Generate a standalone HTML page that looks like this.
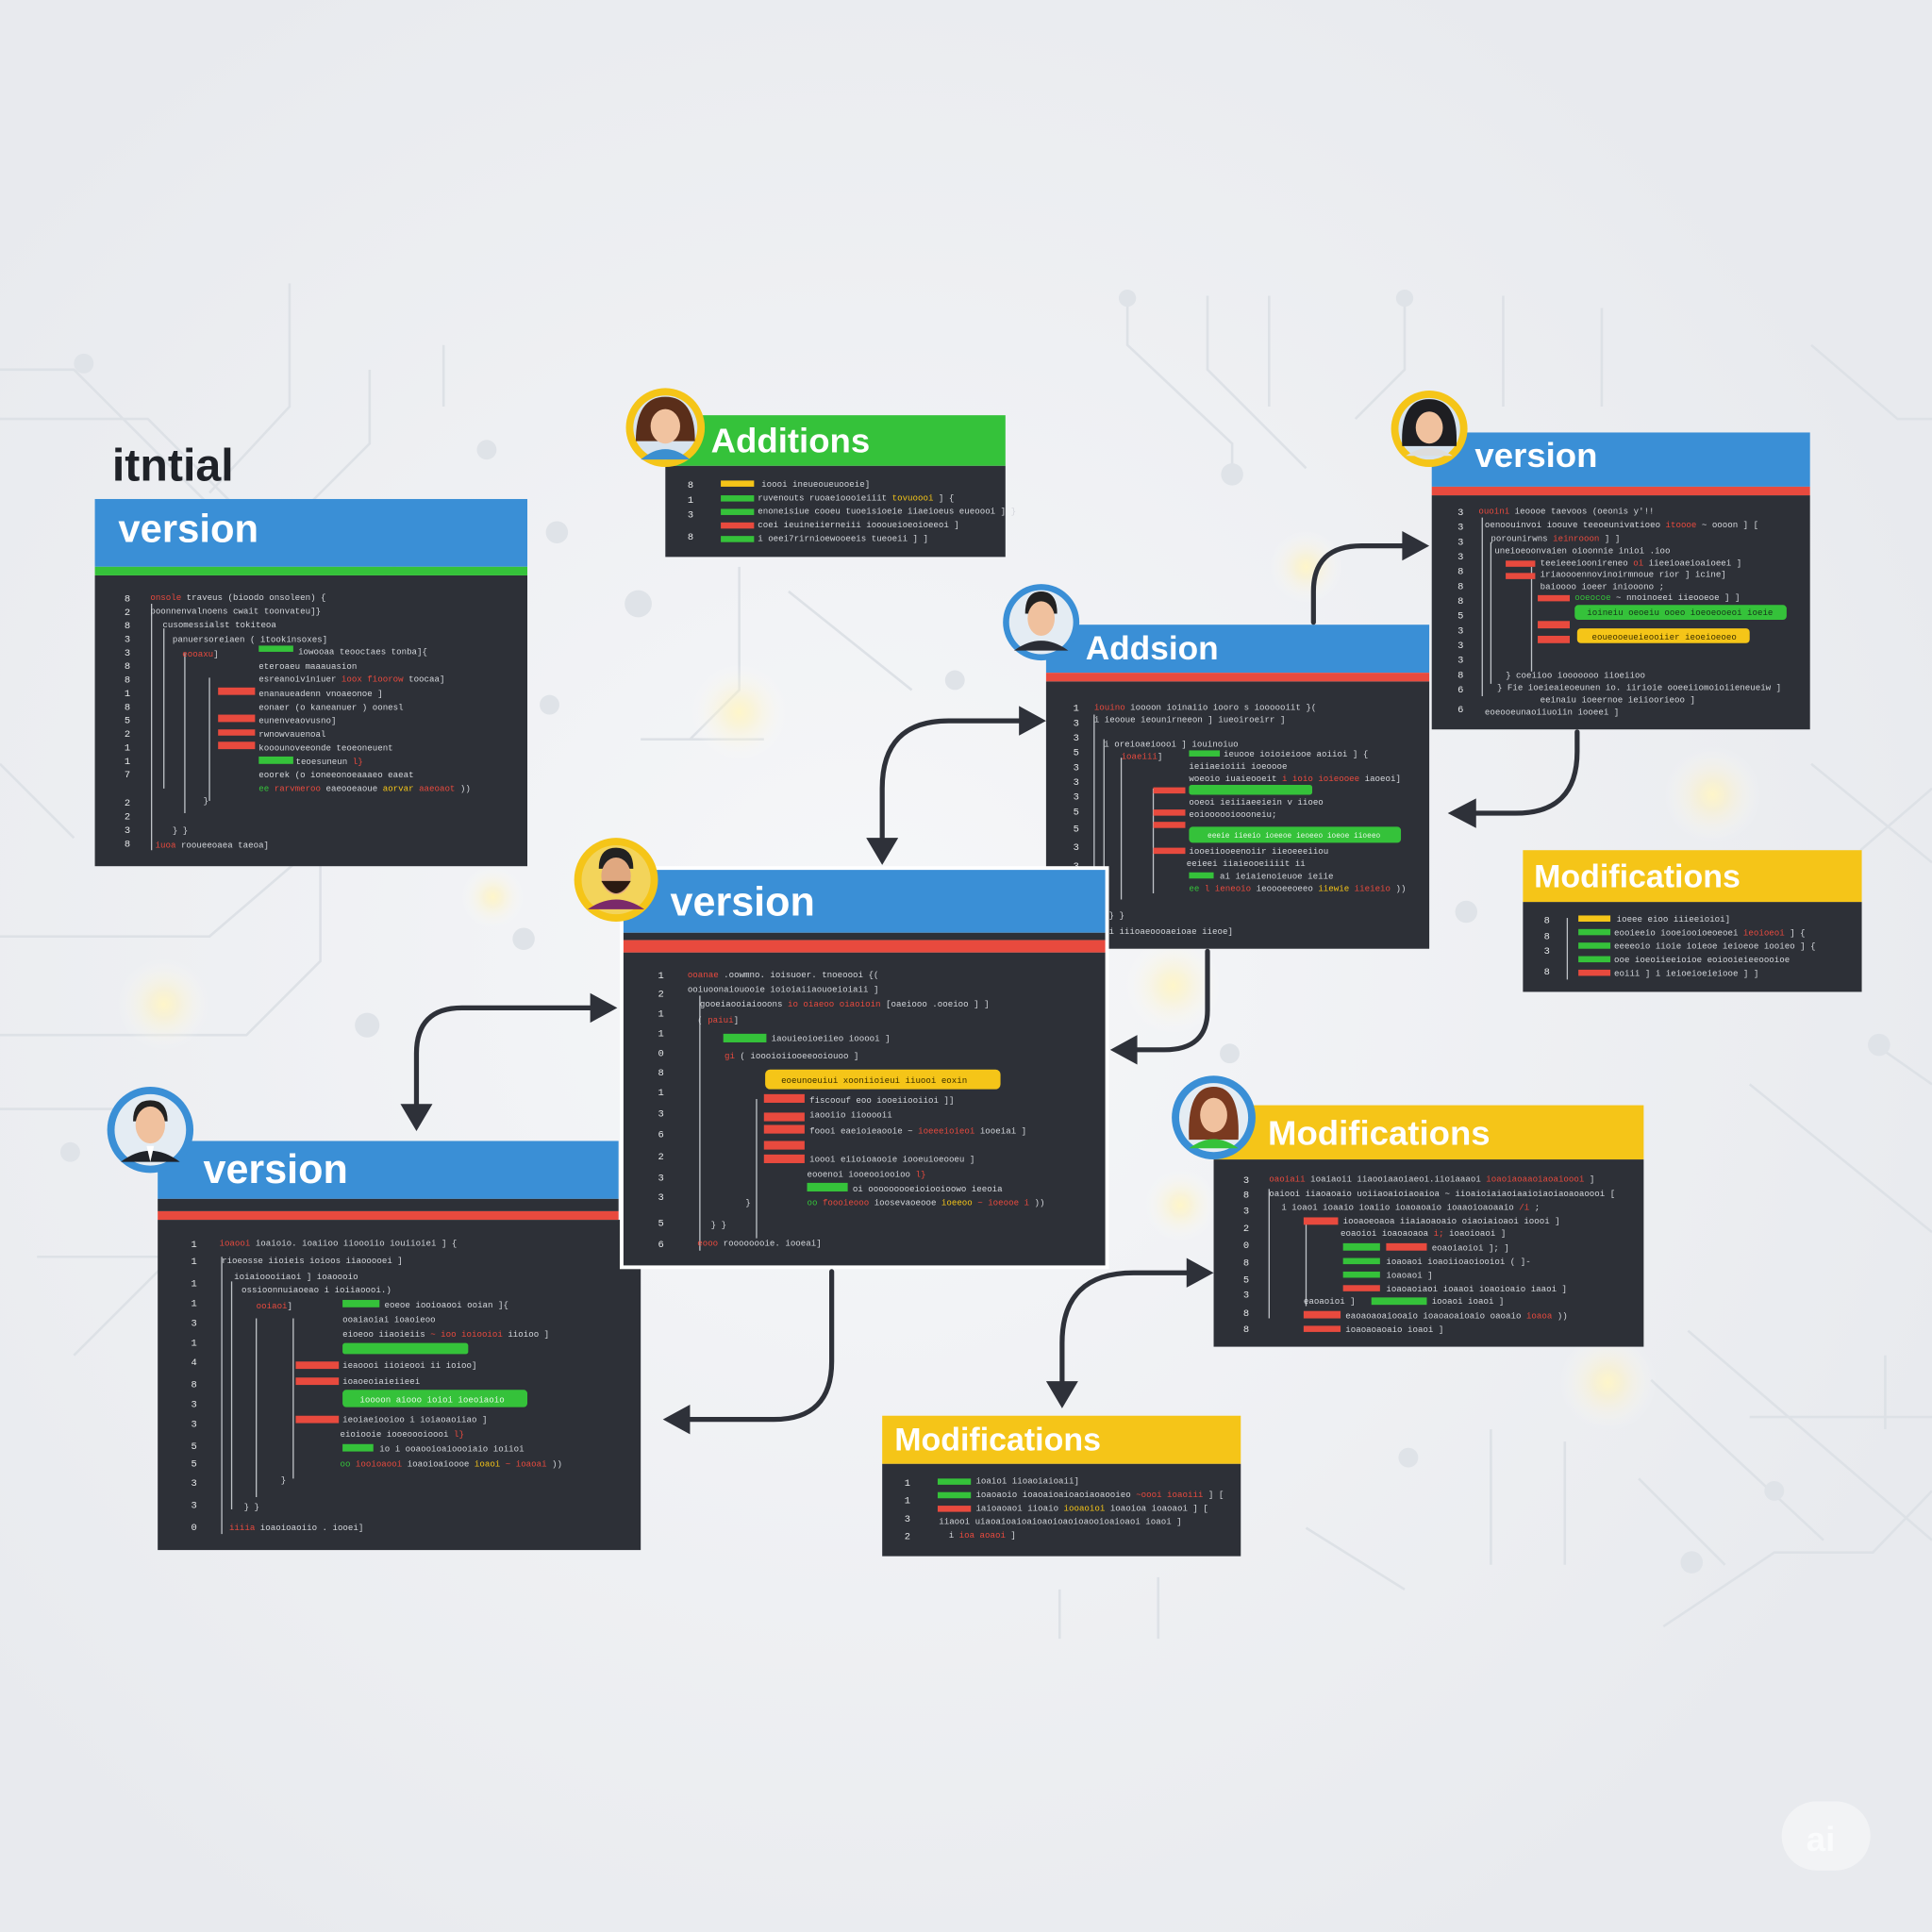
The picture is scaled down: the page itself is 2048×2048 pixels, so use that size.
<!DOCTYPE html>
<html><head><meta charset="utf-8"><style>
html,body{margin:0;padding:0;background:#eceef1;}
svg{display:block}
.h{font-family:"Liberation Sans",sans-serif;font-weight:bold;fill:#fff}
.c{font-family:"Liberation Mono",monospace;font-size:7px;fill:#d4d7dc}
.n{font-family:"Liberation Mono",monospace;font-size:8px;fill:#e6e8ea}
.r{fill:#e84a3e}.g{fill:#35c23a}.y{fill:#f5c518}
.ar{fill:none;stroke:#2e3139;stroke-width:4;stroke-linecap:round}
.ci{fill:none;stroke:#dde1e6;stroke-width:2}
</style></head><body>
<svg width="2048" height="2048" viewBox="0 0 1568 1568" xmlns="http://www.w3.org/2000/svg">
<defs>
<radialGradient id="gl"><stop offset="0" stop-color="#fff6c8" stop-opacity=".95"/><stop offset=".3" stop-color="#fff3c0" stop-opacity=".5"/><stop offset="1" stop-color="#fff" stop-opacity="0"/></radialGradient>
<radialGradient id="bg" cx=".45" cy=".5" r=".6"><stop offset="0" stop-color="#f6f7f9"/><stop offset="1" stop-color="#e8eaee"/></radialGradient>
</defs>
<rect width="1568" height="1568" fill="url(#bg)"/>
<g class="ci">
<path d="M0 300 H60 L180 420 M0 340 H120 L200 420 M0 620 L60 680 M0 760 H170 L240 700 V560 M0 840 H200 L260 780 V520 L360 420 M0 900 H110 M30 1020 H240 M60 1100 L150 1010 M235 230 V330 L170 400 M300 300 V360 L250 410 M360 280 V330"/>
<path d="M600 460 V560 L560 600 M520 600 H620 M640 480 L740 560"/>
<path d="M915 240 V280 L1000 360 V390 M980 240 V300 L1060 380 M1030 240 V330 M1140 240 V300 L1100 340 M1220 240 V330 M1300 250 V330"/>
<path d="M1470 280 L1540 340 H1568 M1470 620 L1568 700 M1510 690 L1568 640 M1525 850 L1568 880 M1420 880 L1568 1000 M1370 1080 L1568 1250 M1340 1120 L1480 1250 M1420 1150 L1568 1150 M1330 1200 L1400 1270 M1350 1320 L1440 1260 H1520 L1568 1210 M1270 1170 V1270 M1210 1160 V1270 M1530 1100 V1160"/>
<path d="M860 1290 V1330 M940 1280 V1330 M1060 1240 L1140 1290"/>
</g>
<g fill="#dfe3e8"><circle cx="68" cy="295" r="8"/><circle cx="395" cy="365" r="8"/><circle cx="452" cy="432" r="9"/><circle cx="518" cy="490" r="11"/><circle cx="446" cy="572" r="8"/><circle cx="425" cy="762" r="9"/><circle cx="298" cy="832" r="10"/><circle cx="57" cy="935" r="8"/><circle cx="775" cy="552" r="8"/><circle cx="915" cy="242" r="7"/><circle cx="1000" cy="385" r="9"/><circle cx="1140" cy="242" r="7"/><circle cx="1190" cy="740" r="9"/><circle cx="1525" cy="848" r="9"/><circle cx="1143" cy="1183" r="8"/><circle cx="1373" cy="1268" r="9"/><circle cx="1440" cy="1210" r="8"/><circle cx="998" cy="855" r="8"/></g>
<g><circle cx="600" cy="578" r="40" fill="url(#gl)"/><circle cx="1390" cy="645" r="40" fill="url(#gl)"/><circle cx="1305" cy="1122" r="40" fill="url(#gl)"/><circle cx="133" cy="815" r="38" fill="url(#gl)"/><circle cx="952" cy="800" r="40" fill="url(#gl)"/><circle cx="958" cy="978" r="30" fill="url(#gl)"/><circle cx="1060" cy="460" r="30" fill="url(#gl)"/><circle cx="400" cy="728" r="26" fill="url(#gl)"/></g>

<!-- Panel 1 initial -->
<text x="91" y="390" font-family="Liberation Sans,sans-serif" font-weight="bold" font-size="37" fill="#1f2228">itntial</text>
<rect x="77" y="467" width="351" height="236" fill="#2d3037"/>
<rect x="77" y="405" width="351" height="55" fill="#3a8fd6"/>
<rect x="77" y="460" width="351" height="7" fill="#35c23a"/>
<text class="h" x="96" y="440" font-size="32">version</text>
<g class="n"><text x="101" y="488">8</text><text x="101" y="499">2</text><text x="101" y="510">8</text><text x="101" y="521">3</text><text x="101" y="532">3</text><text x="101" y="543">8</text><text x="101" y="554">8</text><text x="101" y="565">1</text><text x="101" y="576">8</text><text x="101" y="587">5</text><text x="101" y="598">2</text><text x="101" y="609">1</text><text x="101" y="620">1</text><text x="101" y="631">7</text><text x="101" y="654">2</text><text x="101" y="665">2</text><text x="101" y="676">3</text><text x="101" y="687">8</text></g>
<g stroke="#bfc3c8" stroke-width="1"><path d="M123 490 V690 M133 510 V640 M150 530 V660 M170 550 V650"/></g>
<g class="c"><text x="122" y="487"><tspan class="r">onsole</tspan> traveus (bioodo onsoleen) {</text><text x="122" y="498">poonnenvalnoens cwait toonvateu]}</text><text x="132" y="509">cusomessialst tokiteoa</text><text x="140" y="521">panuersoreiaen ( itookinsoxes]</text><text x="148" y="533"><tspan class="r">eooaxu</tspan>]</text><text x="242" y="531">iowooaa  teooctaes  tonba]{</text><text x="210" y="543">eteroaeu maaauasion</text><text x="210" y="553">esreanoiviniuer <tspan class="r">ioox fioorow</tspan> toocaa]</text><text x="210" y="565">enanaueadenn vnoaeonoe ]</text><text x="210" y="576">eonaer (o kaneanuer ) oonesl</text><text x="210" y="587">eunenveaovusno]</text><text x="210" y="598">rwnowvauenoal</text><text x="210" y="609">kooounoveeonde  teoeoneuent</text><text x="240" y="620">teoesuneun <tspan class="r">l}</tspan></text><text x="210" y="631">eoorek (o ioneeonoeaaaeo  eaeat</text><text x="210" y="642"><tspan class="g">ee</tspan> <tspan class="r">rarvmeroo</tspan> eaeooeaoue <tspan class="y">aorvar</tspan> <tspan class="r">aaeoaot</tspan> ))</text><text x="165" y="652">}</text><text x="140" y="676">} }</text><text x="126" y="688"><tspan class="r">iuoa</tspan> rooueeoaea  taeoa]</text></g>
<g><rect class="g" x="210" y="524" width="28" height="5"/><rect class="r" x="177" y="558" width="30" height="6"/><rect class="r" x="177" y="580" width="30" height="6"/><rect class="r" x="177" y="592" width="30" height="5"/><rect class="r" x="177" y="602" width="30" height="6"/><rect class="g" x="210" y="614" width="28" height="6"/></g>

<!-- Panel 2 Additions -->
<rect x="540" y="378" width="276" height="74" fill="#2d3037"/>
<rect x="540" y="337" width="276" height="41" fill="#35c23a"/>
<text class="h" x="577" y="367" font-size="28">Additions</text>
<g class="n" font-size="7"><text x="558" y="396">8</text><text x="558" y="408">1</text><text x="558" y="420">3</text><text x="558" y="438">8</text></g>
<g><rect class="y" x="585" y="390" width="27" height="5"/><rect class="g" x="585" y="402" width="27" height="5"/><rect class="g" x="585" y="413" width="27" height="5"/><rect class="r" x="585" y="424" width="27" height="5"/><rect class="g" x="585" y="435" width="27" height="5"/></g>
<g class="c" font-size="6.5"><text x="618" y="395">ioooi ineueoueuooeie]</text><text x="615" y="406">ruvenouts  ruoaeioooieiiit <tspan class="y">tovuoooi</tspan> ] {</text><text x="615" y="417">enoneisiue cooeu tuoeisioeie  iiaeioeus  eueoooi ] }</text><text x="615" y="428">coei ieuineiierneiii ioooueioeoioeeoi ]</text><text x="615" y="439">i oeei7rirnioewooeeis tueoeii ] ]</text></g>

<!-- Panel 3 top right version -->
<rect x="1162" y="402" width="307" height="190" fill="#2d3037"/>
<rect x="1162" y="351" width="307" height="44" fill="#3a8fd6"/>
<rect x="1162" y="395" width="307" height="7" fill="#e84a3e"/>
<text class="h" x="1197" y="379" font-size="28">version</text>
<g class="n" font-size="7"><text x="1183" y="418">3</text><text x="1183" y="430">3</text><text x="1183" y="442">3</text><text x="1183" y="454">3</text><text x="1183" y="466">8</text><text x="1183" y="478">8</text><text x="1183" y="490">8</text><text x="1183" y="502">5</text><text x="1183" y="514">3</text><text x="1183" y="526">3</text><text x="1183" y="538">3</text><text x="1183" y="550">8</text><text x="1183" y="562">6</text><text x="1183" y="578">6</text></g>
<g stroke="#bfc3c8" stroke-width="1"><path d="M1203 420 V565 M1210 440 V555 M1243 460 V545"/></g>
<g class="c" font-size="6"><text x="1200" y="417"><tspan class="r">ouoini</tspan> ieoooe  taevoos (oeonis  y'!!</text><text x="1205" y="428">oenoouinvoi ioouve  teeoeunivatioeo <tspan class="r">itoooe</tspan> ~ oooon ] [</text><text x="1210" y="439">porounirwns <tspan class="r">ieinrooon</tspan> ] ]</text><text x="1213" y="449">uneioeoonvaien  oioonnie inioi .ioo</text><text x="1250" y="459">teeieeeioonireneo <tspan class="r">oi</tspan> iieeioaeioaioeei ]</text><text x="1250" y="468">iriaoooennovinoirmnoue  rior ] icine]</text><text x="1250" y="478">baioooo  ioeer  iniooono ;</text><text x="1278" y="487"><tspan class="g">ooeocoe</tspan> ~ nnoinoeei  iieooeoe ] ]</text><text x="1222" y="550">}  coeiioo  iooooooo  iioeiioo</text><text x="1215" y="560">} Fie ioeieaieoeunen  io. iirioie ooeeiiomoioiieneueiw ]</text><text x="1250" y="570">eeinaiu  ioeernoe  ieiioorieoo  ]</text><text x="1205" y="580">eoeooeunaoiiuoiin iooeei ]</text></g>
<g><rect class="r" x="1222" y="455" width="24" height="5"/><rect class="r" x="1222" y="465" width="24" height="5"/><rect class="r" x="1248" y="483" width="26" height="5"/><rect class="r" x="1248" y="504" width="26" height="6"/><rect class="r" x="1248" y="516" width="26" height="6"/><rect class="g" x="1278" y="491" width="172" height="12" rx="3"/><rect class="y" x="1280" y="510" width="140" height="12" rx="3"/></g>
<g class="c" font-size="6"><text x="1288" y="499" style="fill:#16351a">ioineiu oeoeiu ooeo ioeoeooeoi ioeie</text><text x="1292" y="519" style="fill:#3a3000">eoueooeueieooiier  ieoeioeoeo</text></g>

<!-- Panel 4 Addsion -->
<rect x="849" y="553" width="311" height="217" fill="#2d3037"/>
<rect x="849" y="507" width="311" height="39" fill="#3a8fd6"/>
<rect x="849" y="546" width="311" height="7" fill="#e84a3e"/>
<text class="h" x="881" y="535" font-size="27">Addsion</text>
<g class="n" font-size="7"><text x="871" y="577">1</text><text x="871" y="589">3</text><text x="871" y="601">3</text><text x="871" y="613">5</text><text x="871" y="625">3</text><text x="871" y="637">3</text><text x="871" y="649">3</text><text x="871" y="661">5</text><text x="871" y="675">5</text><text x="871" y="690">3</text><text x="871" y="705">3</text><text x="871" y="720">3</text><text x="871" y="745">1</text></g>
<g stroke="#bfc3c8" stroke-width="1"><path d="M888 580 V740 M896 600 V735 M910 615 V730 M936 640 V725"/></g>
<g class="c" font-size="6"><text x="888" y="576"><tspan class="r">iouino</tspan> ioooon  ioinaiio iooro s ioooooiit }(</text><text x="888" y="586">i ieooue ieounirneeon ] iueoiroeirr ]</text><text x="896" y="606">i oreioaeioooi ] iouinoiuo</text><text x="910" y="616"><tspan class="r">ioaeiii</tspan>]</text><text x="993" y="614">ieuooe  ioioieiooe  aoiioi ] {</text><text x="965" y="624">ieiiaeioiii ioeoooe</text><text x="965" y="634">woeoio  iuaieooeit <tspan class="r">i ioio ioieooee</tspan> iaoeoi]</text><text x="965" y="653">ooeoi  ieiiiaeeiein v iioeo</text><text x="965" y="663">eoioooooioooneiu;</text><text x="965" y="693">iooeiiooeenoiir  iieoeeeiiou</text><text x="963" y="703">eeieei  iiaieooeiiiit  ii</text><text x="990" y="713">ai  ieiaienoieuoe  ieiie</text><text x="965" y="723"><tspan class="g">ee</tspan> <tspan class="r">l ieneoio</tspan> ieoooeeoeeo  <tspan class="y">iiewie</tspan> <tspan class="r">iieieio</tspan> ))</text><text x="900" y="745">} }</text><text x="900" y="758">i iiioaeoooaeioae  iieoe]</text></g>
<g><rect class="g" x="965" y="609" width="25" height="5"/><rect class="g" x="965" y="637" width="100" height="8" rx="2"/><rect class="r" x="936" y="639" width="26" height="5"/><rect class="r" x="936" y="657" width="26" height="5"/><rect class="r" x="936" y="667" width="26" height="5"/><rect class="g" x="965" y="671" width="172" height="13" rx="3"/><rect class="r" x="936" y="688" width="26" height="5"/><rect class="g" x="965" y="708" width="20" height="5"/></g>
<text x="980" y="680" font-family="Liberation Mono,monospace" font-size="6" fill="#e8f8e8">eeeie iieeio ioeeoe ieoeeo ioeoe iioeeo</text>

<!-- Panel 5 Modifications right -->
<rect x="1236" y="732" width="275" height="73" fill="#2d3037"/>
<rect x="1236" y="690" width="275" height="42" fill="#f5c518"/>
<text class="h" x="1245" y="720" font-size="26">Modifications</text>
<g class="n" font-size="7"><text x="1253" y="749">8</text><text x="1253" y="762">8</text><text x="1253" y="774">3</text><text x="1253" y="791">8</text></g>
<g stroke="#bfc3c8"><path d="M1272 745 V795"/></g>
<g><rect class="y" x="1281" y="743" width="26" height="5"/><rect class="g" x="1281" y="754" width="26" height="5"/><rect class="g" x="1281" y="765" width="26" height="5"/><rect class="g" x="1281" y="776" width="26" height="5"/><rect class="r" x="1281" y="787" width="26" height="5"/></g>
<g class="c" font-size="6"><text x="1312" y="748">ioeee  eioo  iiieeioioi]</text><text x="1310" y="759">eooieeio  iooeiooioeoeoei <tspan class="r">ieoioeoi</tspan> ] {</text><text x="1310" y="770">eeeeoio  iioie  ioieoe  ieioeoe  iooieo ] {</text><text x="1310" y="781">ooe ioeoiieeioioe  eoiooieieeoooioe</text><text x="1310" y="792">eoiii ] i ieioeioeieiooe ] ]</text></g>

<!-- Panel 7 bottom-left version (behind center) -->
<rect x="128" y="990" width="392" height="268" fill="#2d3037"/>
<rect x="128" y="926" width="374" height="47" fill="#3a8fd6"/>
<rect x="128" y="973" width="374" height="10" fill="#2d3037"/>
<rect x="128" y="983" width="374" height="7" fill="#e84a3e"/>
<text class="h" x="165" y="960" font-size="33">version</text>
<g class="n" font-size="8"><text x="155" y="1012">1</text><text x="155" y="1026">1</text><text x="155" y="1044">1</text><text x="155" y="1060">1</text><text x="155" y="1076">3</text><text x="155" y="1092">1</text><text x="155" y="1108">4</text><text x="155" y="1126">8</text><text x="155" y="1142">3</text><text x="155" y="1158">3</text><text x="155" y="1176">5</text><text x="155" y="1190">5</text><text x="155" y="1206">3</text><text x="155" y="1224">3</text><text x="155" y="1242">0</text></g>
<g stroke="#bfc3c8" stroke-width="1"><path d="M180 1020 V1245 M188 1040 V1225 M208 1070 V1215 M238 1070 V1200"/></g>
<g class="c" font-size="7"><text x="178" y="1011"><tspan class="r">ioaooi</tspan> ioaioio.  ioaiioo  iioooiio  iouiioiei ] {</text><text x="180" y="1025">rioeosse iioieis  ioioos  iiaooooei ]</text><text x="190" y="1038">ioiaioooiiaoi ]  ioaoooio</text><text x="196" y="1049">ossioonnuiaoeao  i  ioiiaoooi.)</text><text x="208" y="1062"><tspan class="r">ooiaoi</tspan>]</text><text x="312" y="1061">eoeoe  iooioaooi  ooian  ]{</text><text x="278" y="1073">ooaiaoiai ioaoieoo</text><text x="278" y="1085">eioeoo  iiaoieiis <tspan class="r">~ ioo ioiooioi</tspan>  iioioo ]</text><text x="278" y="1110">ieaoooi iioieooi ii ioioo]</text><text x="278" y="1123">ioaoeoiaieiieei</text><text x="278" y="1154">ieoiaeiooioo  i ioiaoaoiiao ]</text><text x="276" y="1166">eioiooie  iooeoooioooi <tspan class="r">l}</tspan></text><text x="308" y="1178">io  i ooaooioaioooiaio  ioiioi</text><text x="276" y="1190"><tspan class="g">oo</tspan> <tspan class="r">iooioaooi</tspan>  ioaoioaioooe  <tspan class="y">ioaoi</tspan> <tspan class="r">~ ioaoai</tspan> ))</text><text x="228" y="1203">}</text><text x="198" y="1225">} }</text><text x="186" y="1242"><tspan class="r">iiiia</tspan> ioaoioaoiio . iooei]</text></g>
<g><rect class="g" x="278" y="1055" width="30" height="6"/><rect class="g" x="278" y="1090" width="102" height="9" rx="2"/><rect class="r" x="240" y="1105" width="35" height="6"/><rect class="r" x="240" y="1118" width="35" height="6"/><rect class="g" x="278" y="1128" width="150" height="14" rx="3"/><rect class="r" x="240" y="1149" width="35" height="6"/><rect class="g" x="278" y="1172" width="25" height="6"/></g>
<text x="292" y="1138" font-family="Liberation Mono,monospace" font-size="7" fill="#e8f8e8">ioooon aiooo ioioi  ioeoiaoio</text>

<!-- Panel 6 center version -->
<rect x="503" y="703" width="397" height="327" fill="#fff"/>
<rect x="506" y="773" width="391" height="254" fill="#2d3037"/>
<rect x="506" y="706" width="391" height="51" fill="#3a8fd6"/>
<rect x="506" y="757" width="391" height="6" fill="#2d3037"/>
<rect x="506" y="763" width="391" height="10" fill="#e84a3e"/>
<text class="h" x="544" y="743" font-size="33">version</text>
<g class="n" font-size="9"><text x="534" y="794">1</text><text x="534" y="809">2</text><text x="534" y="825">1</text><text x="534" y="841">1</text><text x="534" y="857">0</text><text x="534" y="873">8</text><text x="534" y="889">1</text><text x="534" y="906">3</text><text x="534" y="923">6</text><text x="534" y="941">2</text><text x="534" y="958">3</text><text x="534" y="974">3</text><text x="534" y="995">5</text><text x="534" y="1012">6</text></g>
<g stroke="#bfc3c8" stroke-width="1"><path d="M568 808 V1015 M614 892 V1005"/></g>
<g class="c" font-size="7"><text x="558" y="793"><tspan class="r">ooanae</tspan> .oowmno. ioisuoer. tnoeoooi {(</text><text x="558" y="805">ooiuoonaiouooie  ioioiaiiaouoeioiaii ]</text><text x="568" y="817">gooeiaooiaiooons <tspan class="r">io oiaeoo oiaoioin</tspan> [oaeiooo .ooeioo ] ]</text><text x="566" y="830">( <tspan class="r">paiui</tspan>]</text><text x="626" y="845">iaouieoioeiieo  iooooi ]</text><text x="588" y="859"><tspan class="r">gi</tspan> ( ioooioiiooeeooiouoo ]</text><text x="657" y="895">fiscoouf  eoo iooeiiooiioi ]]</text><text x="657" y="907">iaooiio  iiooooii</text><text x="657" y="920">foooi eaeioieaooie ~ <tspan class="r">ioeeeioieoi</tspan>  iooeiai ]</text><text x="657" y="943">ioooi eiioioaooie  iooeuioeooeu ]</text><text x="655" y="955">eooenoi  iooeooiooioo <tspan class="r">l}</tspan></text><text x="692" y="967">oi  ooooooooeioiooioowo  ieeoia</text><text x="655" y="978"><tspan class="g">oo</tspan> <tspan class="r">foooieooo</tspan>  ioosevaoeooe  <tspan class="y">ioeeoo</tspan> <tspan class="r">~ ioeooe i</tspan> ))</text><text x="605" y="978">}</text><text x="577" y="996">} }</text><text x="566" y="1011"><tspan class="r">eooo</tspan> roooooooie.  iooeai]</text></g>
<g><rect class="g" x="587" y="839" width="35" height="7"/><rect class="y" x="621" y="868" width="191" height="16" rx="4"/><rect class="r" x="620" y="888" width="33" height="7"/><rect class="r" x="620" y="903" width="33" height="7"/><rect class="r" x="620" y="913" width="33" height="7"/><rect class="r" x="620" y="926" width="33" height="7"/><rect class="r" x="620" y="937" width="33" height="7"/><rect class="g" x="655" y="960" width="33" height="7"/></g>
<text x="634" y="879" font-family="Liberation Mono,monospace" font-size="7" fill="#3a2f00">eoeunoeuiui  xooniioieui   iiuooi eoxin</text>

<!-- Panel 8 Modifications middle right -->
<rect x="985" y="941" width="349" height="152" fill="#2d3037"/>
<rect x="985" y="897" width="349" height="44" fill="#f5c518"/>
<text class="h" x="1029" y="929" font-size="28">Modifications</text>
<g class="n" font-size="7"><text x="1009" y="960">3</text><text x="1009" y="972">8</text><text x="1009" y="985">3</text><text x="1009" y="999">2</text><text x="1009" y="1013">0</text><text x="1009" y="1027">8</text><text x="1009" y="1041">5</text><text x="1009" y="1053">3</text><text x="1009" y="1068">8</text><text x="1009" y="1081">8</text></g>
<g stroke="#bfc3c8"><path d="M1030 965 V1070 M1060 990 V1060"/></g>
<g class="c" font-size="6"><text x="1030" y="959"><tspan class="r">oaoiaii</tspan>  ioaiaoii iiaooiaaoiaeoi.iioiaaaoi  <tspan class="r">ioaoiaoaaoiaoaioooi</tspan> ]</text><text x="1030" y="971">oaiooi  iiaoaoaio  uoiiaoaioiaoaioa ~ iioaioiaiaoiaaioiaoiaoaoaoooi [</text><text x="1040" y="982">i ioaoi ioaaio ioaiio  ioaoaoaio  ioaaoioaoaaio <tspan class="r">/i</tspan> ;</text><text x="1090" y="993">iooaoeoaoa  iiaiaoaoaio oiaoiaioaoi  ioooi ]</text><text x="1088" y="1003">eoaoioi  ioaoaoaoa <tspan class="r">i;</tspan>    ioaoioaoi ]</text><text x="1162" y="1015">eoaoiaoioi ]; ]</text><text x="1125" y="1026">ioaoaoi  ioaoiioaoiooioi ( ]-</text><text x="1125" y="1037">ioaoaoi ]</text><text x="1125" y="1048">ioaoaoiaoi  ioaaoi  ioaoioaio  iaaoi ]</text><text x="1058" y="1058">eaoaoioi ]</text><text x="1162" y="1058">iooaoi  ioaoi ]</text><text x="1092" y="1070">eaoaoaoaiooaio ioaoaoaioaio  oaoaio <tspan class="r">ioaoa</tspan> ))</text><text x="1092" y="1081">ioaoaoaoaio  ioaoi ]</text></g>
<g><rect class="r" x="1058" y="988" width="28" height="6"/><rect class="g" x="1090" y="1009" width="30" height="6"/><rect class="r" x="1125" y="1009" width="33" height="6"/><rect class="g" x="1090" y="1021" width="30" height="5"/><rect class="g" x="1090" y="1032" width="30" height="5"/><rect class="r" x="1090" y="1043" width="30" height="5"/><rect class="g" x="1113" y="1053" width="45" height="6"/><rect class="r" x="1058" y="1064" width="30" height="6"/><rect class="r" x="1058" y="1076" width="30" height="5"/></g>

<!-- Panel 9 Modifications bottom -->
<rect x="716" y="1188" width="291" height="75" fill="#2d3037"/>
<rect x="716" y="1149" width="291" height="39" fill="#f5c518"/>
<text class="h" x="726" y="1177" font-size="26">Modifications</text>
<g class="n" font-size="7"><text x="734" y="1206">1</text><text x="734" y="1220">1</text><text x="734" y="1235">3</text><text x="734" y="1249">2</text></g>
<g><rect class="g" x="761" y="1200" width="27" height="5"/><rect class="g" x="761" y="1211" width="27" height="5"/><rect class="r" x="761" y="1222" width="27" height="5"/></g>
<g class="c" font-size="6"><text x="792" y="1204">ioaioi  iioaoiaioaii]</text><text x="792" y="1215">ioaoaoio  ioaoaioaioaoiaoaooieo <tspan class="r">~oooi ioaoiii</tspan> ] [</text><text x="792" y="1226">iaioaoaoi  iioaio <tspan class="y">iooaoioi</tspan>  ioaoioa  ioaoaoi ] [</text><text x="762" y="1237">iiaooi uiaoaioaioaioaoioaoioaooioaioaoi  ioaoi  ]</text><text x="770" y="1248">i  <tspan class="r">ioa aoaoi</tspan> ]</text></g>

<!-- Arrows -->
<g class="ar">
<path d="M1066 505 V480 Q1066 443 1105 443 H1145"/>
<path d="M1280 594 V610 Q1280 660 1230 660 H1192"/>
<path d="M716 685 V640 Q716 585 770 585 H832"/>
<path d="M338 900 V855 Q338 818 375 818 H485"/>
<path d="M980 772 V820 Q980 852 945 852 H917"/>
<path d="M675 1032 V1105 Q675 1152 628 1152 H555"/>
<path d="M862 1125 V1090 Q862 1033 920 1033 H970"/>
</g>
<g fill="#2e3139">
<path d="M1160 443 L1138 431 V455 Z"/>
<path d="M1175 660 L1198 648 V672 Z"/>
<path d="M716 702 L703 680 H729 Z"/>
<path d="M849 585 L827 573 V597 Z"/>
<path d="M338 918 L325 896 H351 Z"/>
<path d="M501 818 L479 806 V830 Z"/>
<path d="M901 852 L923 840 V864 Z"/>
<path d="M538 1152 L560 1140 V1164 Z"/>
<path d="M985 1033 L963 1021 V1045 Z"/>
<path d="M862 1143 L849 1121 H875 Z"/>
</g>

<!-- Avatars -->
<g>
<circle cx="540" cy="347" r="32" fill="#f5c518"/><circle cx="540" cy="347" r="26" fill="#d7e3ee"/>
<path d="M516 358 Q516 322 540 322 Q564 322 564 358 Z" fill="#5a2e1a"/><ellipse cx="540" cy="346" rx="12" ry="14" fill="#f1c3a0"/><path d="M520 373 Q540 356 560 373 Z" fill="#3b8fd0"/>

<circle cx="1160" cy="348" r="31" fill="#f5c518"/><circle cx="1160" cy="348" r="25" fill="#d7e3ee"/>
<path d="M1138 362 Q1136 324 1160 324 Q1184 324 1182 362 Z" fill="#1e1e22"/><ellipse cx="1160" cy="347" rx="11" ry="13" fill="#f0c19e"/><path d="M1141 370 Q1160 357 1179 370 Z" fill="#ddd"/>

<circle cx="845" cy="505" r="31" fill="#3a8fd6"/><circle cx="845" cy="505" r="26" fill="#e4ecf3"/>
<path d="M832 498 Q832 480 845 480 Q858 480 858 498 Z" fill="#222"/><ellipse cx="845" cy="502" rx="11" ry="14" fill="#f0c19e"/><path d="M823 528 Q845 512 867 528 Z" fill="#2a2d35"/>

<circle cx="500" cy="714" r="34" fill="#f5c518"/><circle cx="500" cy="714" r="28" fill="#f3d45a"/>
<path d="M486 705 Q486 688 500 688 Q514 688 514 705 Z" fill="#222"/><ellipse cx="500" cy="711" rx="12" ry="15" fill="#e0a880"/><path d="M488 715 Q500 735 512 715 Z" fill="#2b1a12"/><path d="M477 738 Q500 722 523 738 Z" fill="#7a2a6a"/>

<circle cx="122" cy="917" r="35" fill="#3a8fd6"/><circle cx="122" cy="917" r="29" fill="#e4ecf3"/>
<path d="M108 910 Q108 893 122 893 Q136 893 136 910 Z" fill="#222"/><ellipse cx="122" cy="913" rx="12" ry="15" fill="#f0c19e"/><path d="M98 943 Q122 925 146 943 Z" fill="#1f2228"/><path d="M119 930 L122 943 L125 930 Z" fill="#fff"/>

<circle cx="985" cy="907" r="34" fill="#3a8fd6"/><circle cx="985" cy="907" r="28" fill="#e4ecf3"/>
<path d="M965 925 Q963 882 985 882 Q1007 882 1005 925 Z" fill="#7a3a20"/><ellipse cx="985" cy="905" rx="11" ry="14" fill="#f0c19e"/><path d="M965 932 Q985 917 1005 932 Z" fill="#35c23a"/>
</g>
<rect x="1446" y="1462" width="72" height="56" rx="28" fill="#f2f3f5"/>
<text x="1466" y="1502" font-family="Liberation Sans,sans-serif" font-size="28" font-weight="bold" fill="#fafbfc">ai</text>
</svg>
</body></html>
